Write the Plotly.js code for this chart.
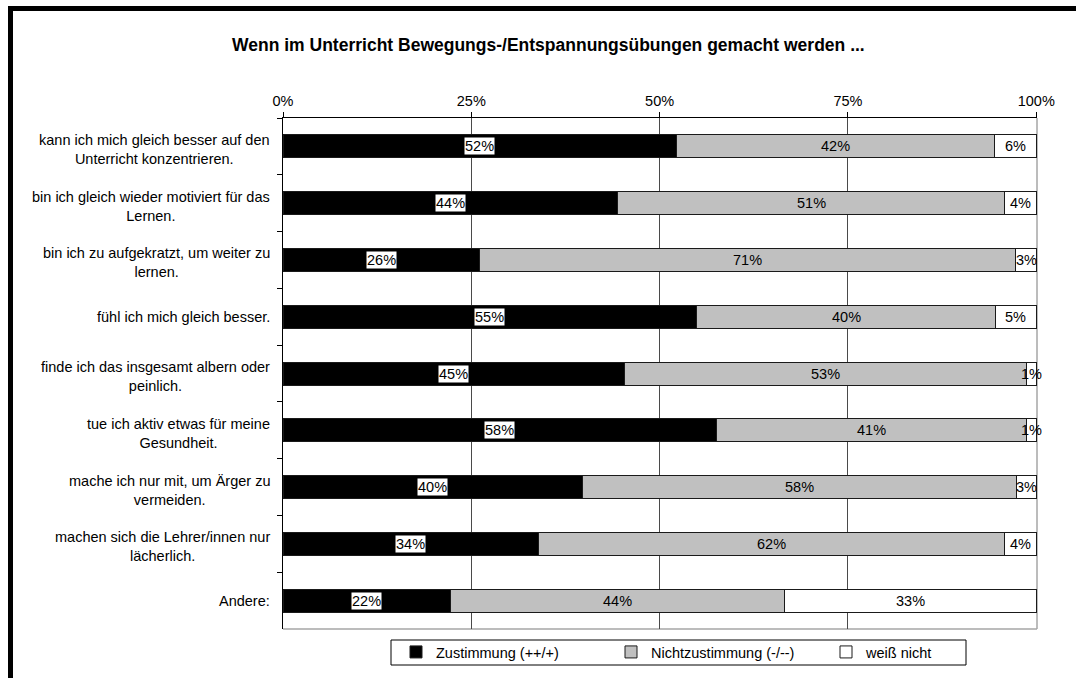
<!DOCTYPE html>
<html>
<head>
<meta charset="utf-8">
<script src="https://cdn.plot.ly/plotly-3.0.1.min.js"></script>
<style>
  html, body { margin: 0; padding: 0; background: #fff; }
  #chart { width: 1076px; height: 678px; position: absolute; left: 0; top: 0; }
  #frame { position: absolute; left: 8px; top: 6px; width: 1200px; height: 800px;
           border-top: 5px solid #000; border-left: 5px solid #000; pointer-events: none; }
</style>
</head>
<body>
<div id="chart"></div>
<div id="frame"></div>
<script>
const categories = [
  "kann ich mich gleich besser auf den<br>Unterricht konzentrieren.",
  "bin ich gleich wieder motiviert für das<br>Lernen.",
  "bin ich zu aufgekratzt, um weiter zu<br>lernen.",
  "fühl ich mich gleich besser.",
  "finde ich das insgesamt albern oder<br>peinlich.",
  "tue ich aktiv etwas für meine<br>Gesundheit.",
  "mache ich nur mit, um Ärger zu<br>vermeiden.",
  "machen sich die Lehrer/innen nur<br>lächerlich.",
  "Andere:"
];
const zustimmung      = [52.2, 44.4, 26.1, 54.9, 45.3, 57.6, 39.8, 33.9, 22.2];
const nichtzustimmung = [42.2, 51.4, 71.2, 39.7, 53.4, 41.1, 57.6, 61.9, 44.4];
const weissNicht      = [5.6, 4.2, 2.7, 5.4, 1.3, 1.3, 2.6, 4.2, 33.4];
const seriesNames = ["Zustimmung (++/+)", "Nichtzustimmung (-/--)", "weiß nicht"];
const tickValues = [0, 25, 50, 75, 100];
const tickLabels = ["0%", "25%", "50%", "75%", "100%"];
const chartTitle = "Wenn im Unterricht Bewegungs-/Entspannungsübungen gemacht werden ...";

const FONT = "Liberation Sans, Arial, sans-serif";
const FS = 14.5;
const series = [zustimmung, nichtzustimmung, weissNicht];
const colors = ["#000000", "#c0c0c0", "#ffffff"];

const traces = series.map((vals, i) => ({
  type: "bar",
  orientation: "h",
  name: seriesNames[i],
  x: vals,
  y: categories,
  marker: { color: colors[i], line: { color: "#1a1a1a", width: 1 } },
  hoverinfo: "skip"
}));

const annotations = [];
categories.forEach((cat, j) => {
  let cum = 0;
  series.forEach((vals, i) => {
    const v = vals[j];
    annotations.push({
      xref: "x", yref: "y", x: cum + v / 2, y: cat,
      text: Math.round(v) + "%", showarrow: false,
      font: { family: FONT, size: FS, color: "#000" },
      bgcolor: i === 0 ? "#ffffff" : "rgba(0,0,0,0)",
      borderpad: 0, xanchor: "center", yanchor: "middle"
    });
    cum += v;
  });
  annotations.push({
    xref: "paper", yref: "y", x: 0, y: cat, xshift: -11,
    yshift: cat.indexOf("<br>") >= 0 ? -3 : 0,
    text: cat, showarrow: false, xanchor: "right", yanchor: "middle", align: "center",
    font: { family: FONT, size: FS, color: "#000" }
  });
});

const layout = {
  width: 1076, height: 678,
  margin: { l: 283, r: 39, t: 118, b: 49, autoexpand: false },
  paper_bgcolor: "#ffffff", plot_bgcolor: "#ffffff",
  barmode: "stack", bargap: 0.595,
  showlegend: true,
  hovermode: false,
  title: {
    text: "<b>" + chartTitle + "</b>",
    font: { family: FONT, size: 17.5, color: "#000" },
    xref: "paper", x: 0.352, xanchor: "center",
    yref: "container", y: 1 - 45 / 678, yanchor: "middle"
  },
  xaxis: {
    side: "top", range: [0, 100.1], tickvals: tickValues, ticktext: tickLabels,
    showgrid: true, gridcolor: "#4a4a4a", gridwidth: 1, zeroline: false,
    showline: true, linecolor: "#000", linewidth: 1,
    ticks: "outside", ticklen: 5, tickcolor: "#000",
    tickfont: { family: FONT, size: FS, color: "#000" }, fixedrange: true
  },
  yaxis: {
    autorange: "reversed", type: "category",
    showticklabels: false, showgrid: false, zeroline: false,
    showline: true, linecolor: "#000", linewidth: 1,
    ticks: "outside", ticklen: 5, tickcolor: "#000", tickson: "boundaries",
    fixedrange: true
  },
  shapes: [
    { type: "line", xref: "paper", yref: "paper", x0: 1, x1: 1, y0: 0, y1: 1,
      line: { color: "#a6a6a6", width: 1.5 }, layer: "between" },
    { type: "line", xref: "paper", yref: "paper", x0: 0, x1: 1, y0: 0, y1: 0,
      line: { color: "#a6a6a6", width: 1.5 }, layer: "between" },
    { type: "rect", xref: "paper", yref: "paper",
      x0: (391 - 283) / 754, x1: (966 - 283) / 754,
      y0: (629 - 665) / 511, y1: (629 - 640) / 511,
      line: { color: "#000", width: 1 }, fillcolor: "rgba(0,0,0,0)", layer: "above" }
  ],
  legend: {
    orientation: "h", x: (396 - 283) / 754, xanchor: "left", y: -0.0137, yanchor: "top",
    borderwidth: 0, bgcolor: "rgba(0,0,0,0)",
    font: { family: FONT, size: FS, color: "#000" },
    entrywidth: 170, entrywidthmode: "pixels", traceorder: "normal",
    itemclick: false, itemdoubleclick: false
  },
  annotations: annotations
};

Plotly.newPlot("chart", traces, layout, { displayModeBar: false, staticPlot: true });
</script>
</body>
</html>
